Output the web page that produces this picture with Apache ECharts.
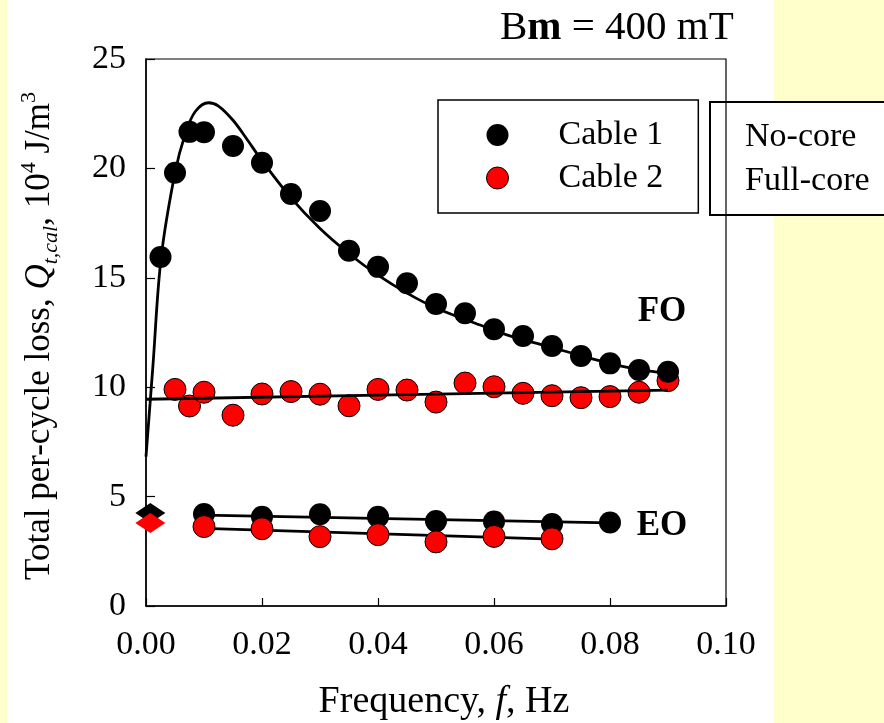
<!DOCTYPE html>
<html>
<head>
<meta charset="utf-8">
<script src="https://cdn.jsdelivr.net/npm/echarts@6/dist/echarts.min.js"></script>
<style>
html,body{margin:0;padding:0;background:#fff;}
#chart{width:884px;height:723px;}
</style>
</head>
<body>
<div id="chart"></div>
<script>
// ---- data ----
var xTicks = [0, 0.02, 0.04, 0.06, 0.08, 0.10];
var yTicks = [0, 5, 10, 15, 20, 25];

// FO (full operation) measured points
var freqFO1 = [0.0025,0.005,0.0075,0.01,0.015,0.02,0.025,0.03,0.035,0.04,0.045,0.05,0.055,0.06,0.065,0.07,0.075,0.08,0.085,0.09];
var cable1FO = [15.95,19.8,21.67,21.65,21.02,20.26,18.83,18.05,16.24,15.5,14.75,13.8,13.38,12.65,12.34,11.88,11.43,11.09,10.79,10.71];
var freqFO2 = [0.005,0.0075,0.01,0.015,0.02,0.025,0.03,0.035,0.04,0.045,0.05,0.055,0.06,0.065,0.07,0.075,0.08,0.085,0.09];
var cable2FO = [9.9,9.14,9.77,8.72,9.69,9.8,9.68,9.15,9.9,9.87,9.32,10.19,10.02,9.72,9.61,9.52,9.57,9.77,10.3];

// EO measured points
var freqEO1 = [0.01,0.02,0.03,0.04,0.05,0.06,0.07,0.08];
var cable1EO = [4.2,4.08,4.19,4.08,3.88,3.86,3.75,3.82];
var freqEO2 = [0.01,0.02,0.03,0.04,0.05,0.06,0.07];
var cable2EO = [3.63,3.53,3.17,3.26,2.93,3.18,3.07];

// DC values (diamonds near f = 0)
var freqDC = [0.00074];
var cable1DC = [4.25];
var cable2DC = [3.79];

// fitted curves
var fitFO1F = [0,0.0007,0.0012,0.0026,0.005,0.0068,0.0085,0.0108,0.0125,0.015,0.0175,0.02,0.025,0.03,0.035,0.04,0.045,0.05,0.0576,0.0622,0.0674,0.0726,0.0778,0.083,0.09];
var fitFO1Q = [6.83,9.26,11.0,15.9,19.8,21.6,22.6,23.0,22.85,22.2,21.3,20.35,18.65,17.25,16.1,15.12,14.3,13.62,12.84,12.39,12.0,11.62,11.24,10.91,10.62];
var fitFO2F = [0,0.045,0.09];
var fitFO2Q = [9.45,9.66,9.87];
var fitEO1F = [0.01,0.08];
var fitEO1Q = [4.15,3.8];
var fitEO2F = [0.01,0.07];
var fitEO2Q = [3.55,3.06];

function zip(a,b){ return a.map(function(v,i){ return [v,b[i]]; }); }

var FONT = "'Liberation Serif','Times New Roman',serif";
var chart = echarts.init(document.getElementById('chart'));

var blackDot = {color:'#000', opacity:1};
var redDot = {color:'#ff0000', borderColor:'#000', borderWidth:1, opacity:1};

var option = {
  backgroundColor:'#ffffff',
  animation:false,
  grid:{left:146, top:59, width:580, height:547, show:true, borderColor:'#000', borderWidth:1.2, backgroundColor:'transparent'},
  xAxis:{
    type:'value', min:xTicks[0], max:xTicks[xTicks.length-1], interval:0.02,
    axisLine:{show:true, lineStyle:{color:'#000', width:1.5}},
    axisTick:{show:true, inside:true, length:8, lineStyle:{color:'#000', width:1.2}},
    splitLine:{show:false},
    axisLabel:{margin:22, fontFamily:FONT, fontSize:34, color:'#000', formatter:function(v){return v.toFixed(2);}}
  },
  yAxis:{
    type:'value', min:yTicks[0], max:yTicks[yTicks.length-1], interval:5,
    axisLine:{show:true, lineStyle:{color:'#000', width:1.5}},
    axisTick:{show:true, inside:true, length:9, lineStyle:{color:'#000', width:1.2}},
    splitLine:{show:false},
    axisLabel:{margin:20, fontFamily:FONT, fontSize:34, color:'#000'}
  },
  legend:{
    data:[{name:'Cable 1', itemStyle:blackDot},{name:'Cable 2', itemStyle:redDot}],
    orient:'vertical', left:438, top:100, padding:[18,35,18,48],
    itemWidth:22, itemHeight:22, itemGap:9, icon:'circle',
    borderColor:'#000', borderWidth:1.5, backgroundColor:'#fff', selectedMode:false,
    textStyle:{fontFamily:FONT, fontSize:34, color:'#000', padding:[0,0,0,45]}
  },
  series:[
    {name:'FO fit 1', type:'line', data:zip(fitFO1F,fitFO1Q), symbol:'none', smooth:0.35,
     lineStyle:{color:'#000', width:2.8}, z:3, silent:true},
    {name:'Cable 1', type:'scatter', data:zip(freqFO1,cable1FO), symbol:'circle', symbolSize:22, itemStyle:blackDot, z:4},
    {name:'Cable 2', type:'scatter', data:zip(freqFO2,cable2FO), symbol:'circle', symbolSize:22, itemStyle:redDot, z:2},
    {name:'FO fit 2', type:'line', data:zip(fitFO2F,fitFO2Q), symbol:'none',
     lineStyle:{color:'#000', width:2.8}, z:3, silent:true},
    {name:'EO fit 1', type:'line', data:zip(fitEO1F,fitEO1Q), symbol:'none',
     lineStyle:{color:'#000', width:2.8}, z:1, silent:true},
    {name:'EO fit 2', type:'line', data:zip(fitEO2F,fitEO2Q), symbol:'none',
     lineStyle:{color:'#000', width:2.8}, z:1, silent:true},
    {name:'Cable 1', type:'scatter', data:zip(freqEO1,cable1EO), symbol:'circle', symbolSize:22, itemStyle:blackDot, z:2},
    {name:'Cable 2', type:'scatter', data:zip(freqEO2,cable2EO), symbol:'circle', symbolSize:22, itemStyle:redDot, z:2},
    {name:'Cable 1 DC', type:'scatter', data:zip(freqDC,cable1DC), symbol:'diamond', symbolSize:[30,20], itemStyle:{color:'#000', opacity:1}, z:5},
    {name:'Cable 2 DC', type:'scatter', data:zip(freqDC,cable2DC), symbol:'diamond', symbolSize:[30,20], itemStyle:{color:'#ff0000', opacity:1}, z:6}
  ],
  graphic:[
    {type:'rect', z:-10, shape:{x:0,y:0,width:7,height:723}, style:{fill:'#FFFFCC'}},
    {type:'rect', z:-10, shape:{x:774,y:0,width:110,height:723}, style:{fill:'#FFFFCC'}},
    {type:'rect', z:-5, shape:{x:710,y:102,width:200,height:113}, style:{fill:'#fff', stroke:'#000', lineWidth:2}},
    {type:'text', z:10, x:745, y:137, style:{text:'No-core', font:'34px '+FONT, fill:'#000', verticalAlign:'middle', align:'left'}},
    {type:'text', z:10, x:745, y:181, style:{text:'Full-core', font:'34px '+FONT, fill:'#000', verticalAlign:'middle', align:'left'}},
    {type:'text', z:10, x:662, y:312, style:{text:'FO', font:'bold 35px '+FONT, fill:'#000', verticalAlign:'middle', align:'center'}},
    {type:'text', z:10, x:662, y:526, style:{text:'EO', font:'bold 35px '+FONT, fill:'#000', verticalAlign:'middle', align:'center'}},
    {type:'text', z:10, x:500, y:28, style:{
      text:'{n|B}{b|m}{n| = 400 mT}', verticalAlign:'middle', align:'left',
      rich:{n:{fontFamily:FONT, fontSize:41, color:'#000'}, b:{fontFamily:FONT, fontSize:41, fontWeight:'bold', color:'#000'}}
    }},
    {type:'text', z:10, x:444, y:702, style:{
      text:'{n|Frequency, }{i|f}{n|, Hz}', verticalAlign:'middle', align:'center',
      rich:{n:{fontFamily:FONT, fontSize:38, color:'#000'}, i:{fontFamily:FONT, fontSize:38, fontStyle:'italic', color:'#000'}}
    }},
    {type:'text', z:10, x:40, y:336, rotation:Math.PI/2, style:{
      text:'{n|Total per-cycle loss, }{q|Q}{s|t,cal}{n|, 10}{p|4}{n| J/m}{p|3}', verticalAlign:'middle', align:'center',
      rich:{
        n:{fontFamily:FONT, fontSize:35, lineHeight:44, color:'#000'},
        q:{fontFamily:FONT, fontSize:35, lineHeight:44, fontStyle:'italic', color:'#000'},
        s:{fontFamily:FONT, fontSize:22, lineHeight:24, fontStyle:'italic', verticalAlign:'bottom', color:'#000'},
        p:{fontFamily:FONT, fontSize:22, lineHeight:24, verticalAlign:'top', color:'#000'}
      }
    }}
  ]
};
chart.setOption(option);
</script>
</body>
</html>
